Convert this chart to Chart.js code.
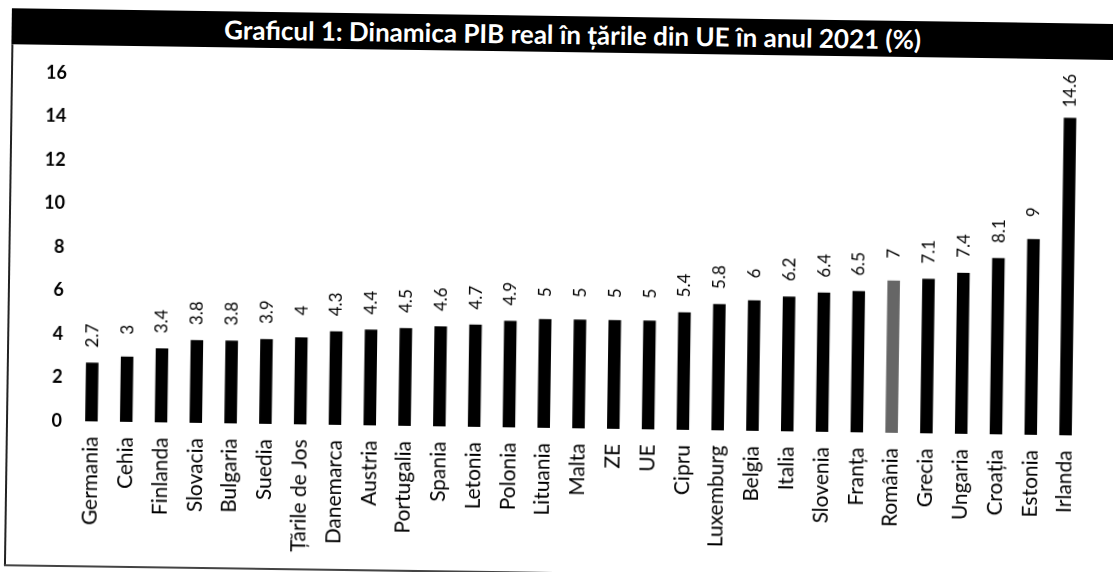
<!DOCTYPE html>
<html lang="ro">
<head>
<meta charset="utf-8">
<title>Dinamica PIB real 2021</title>
<script src="https://cdn.jsdelivr.net/npm/chart.js@4.4.1/dist/chart.umd.min.js"></script>
<style>
  body { margin: 0; background: #fff; overflow: hidden; }
  /* the scanned page is turned a little clockwise */
  #sheet { position: relative; width: 1113px; height: 572px; transform: rotate(0.82deg); transform-origin: 556px 286px; }
  #title-bar { position: absolute; left: 8px; top: 16px; width: 1140px; height: 36px; background: #000; }
  #title { position: absolute; left: 0; top: 0; width: 1122px; height: 36px; line-height: 36px; text-align: center;
           color: #fff; font-family: Lato, sans-serif; font-weight: bold; font-size: 26px; white-space: nowrap; }
  #frame-left { position: absolute; left: 8px; top: 52px; width: 2px; height: 521px; background: #222; }
  #frame-bottom { position: absolute; left: 8px; top: 572px; width: 1120px; height: 2px; background: #444; }
  #chart-box { position: absolute; left: 0; top: 0; width: 1113px; height: 572px; }
</style>
</head>
<body>
<div id="sheet">
  <div id="title-bar"><div id="title">Graficul 1: Dinamica PIB real în țările din UE în anul 2021 (%)</div></div>
  <div id="frame-left"></div>
  <div id="frame-bottom"></div>
  <div id="chart-box"><canvas id="pibChart"></canvas></div>
</div>
<script>
// date
const countries = ['Germania', 'Cehia', 'Finlanda', 'Slovacia', 'Bulgaria', 'Suedia', 'Țările de Jos', 'Danemarca',
  'Austria', 'Portugalia', 'Spania', 'Letonia', 'Polonia', 'Lituania', 'Malta', 'ZE', 'UE', 'Cipru', 'Luxemburg',
  'Belgia', 'Italia', 'Slovenia', 'Franța', 'România', 'Grecia', 'Ungaria', 'Croația', 'Estonia', 'Irlanda'];
const growth = [2.7, 3, 3.4, 3.8, 3.8, 3.9, 4, 4.3, 4.4, 4.5, 4.6, 4.7, 4.9, 5, 5, 5, 5, 5.4, 5.8, 6, 6.2, 6.4, 6.5,
  7, 7.1, 7.4, 8.1, 9, 14.6];
const yTicks = [0, 2, 4, 6, 8, 10, 12, 14, 16];
const highlight = 'România';

const barColors = countries.map(c => c === highlight ? '#666666' : '#000000');

// etichetele cu valori, rotite, deasupra barelor
const valueLabels = {
  id: 'valueLabels',
  afterDatasetsDraw(chart) {
    const ctx = chart.ctx;
    const meta = chart.getDatasetMeta(0);
    ctx.save();
    ctx.fillStyle = '#000';
    ctx.font = '17px Lato';
    ctx.textAlign = 'center';
    ctx.textBaseline = 'middle';
    meta.data.forEach((bar, i) => {
      ctx.save();
      ctx.translate(bar.x, bar.y - 27);
      ctx.rotate(-Math.PI / 2);
      ctx.fillText(String(growth[i]), 0, 0);
      ctx.restore();
    });
    ctx.restore();
  }
};

new Chart(document.getElementById('pibChart'), {
  type: 'bar',
  data: {
    labels: countries,
    datasets: [{
      data: growth,
      backgroundColor: barColors,
      categoryPercentage: 1,
      barPercentage: 0.36
    }]
  },
  options: {
    responsive: true,
    maintainAspectRatio: false,
    animation: false,
    layout: { padding: { left: 0, right: 28, top: 80, bottom: 0 } },
    plugins: {
      legend: { display: false },
      tooltip: { enabled: false }
    },
    scales: {
      x: {
        grid: { display: false, drawTicks: false },
        border: { display: false },
        ticks: {
          color: '#000',
          font: { family: 'Lato', size: 21 },
          minRotation: 90,
          maxRotation: 90,
          autoSkip: false,
          padding: 15
        },
        afterFit(scale) { scale.height = 144; }
      },
      y: {
        min: 0,
        max: 16,
        grid: { display: false, drawTicks: false },
        border: { display: false },
        afterBuildTicks(scale) { scale.ticks = yTicks.map(v => ({ value: v })); },
        ticks: {
          color: '#000',
          font: { family: 'Lato', size: 18, weight: 'bold' },
          padding: 12
        },
        afterFit(scale) { scale.width = 76; }
      }
    }
  },
  plugins: [valueLabels]
});
</script>
</body>
</html>
